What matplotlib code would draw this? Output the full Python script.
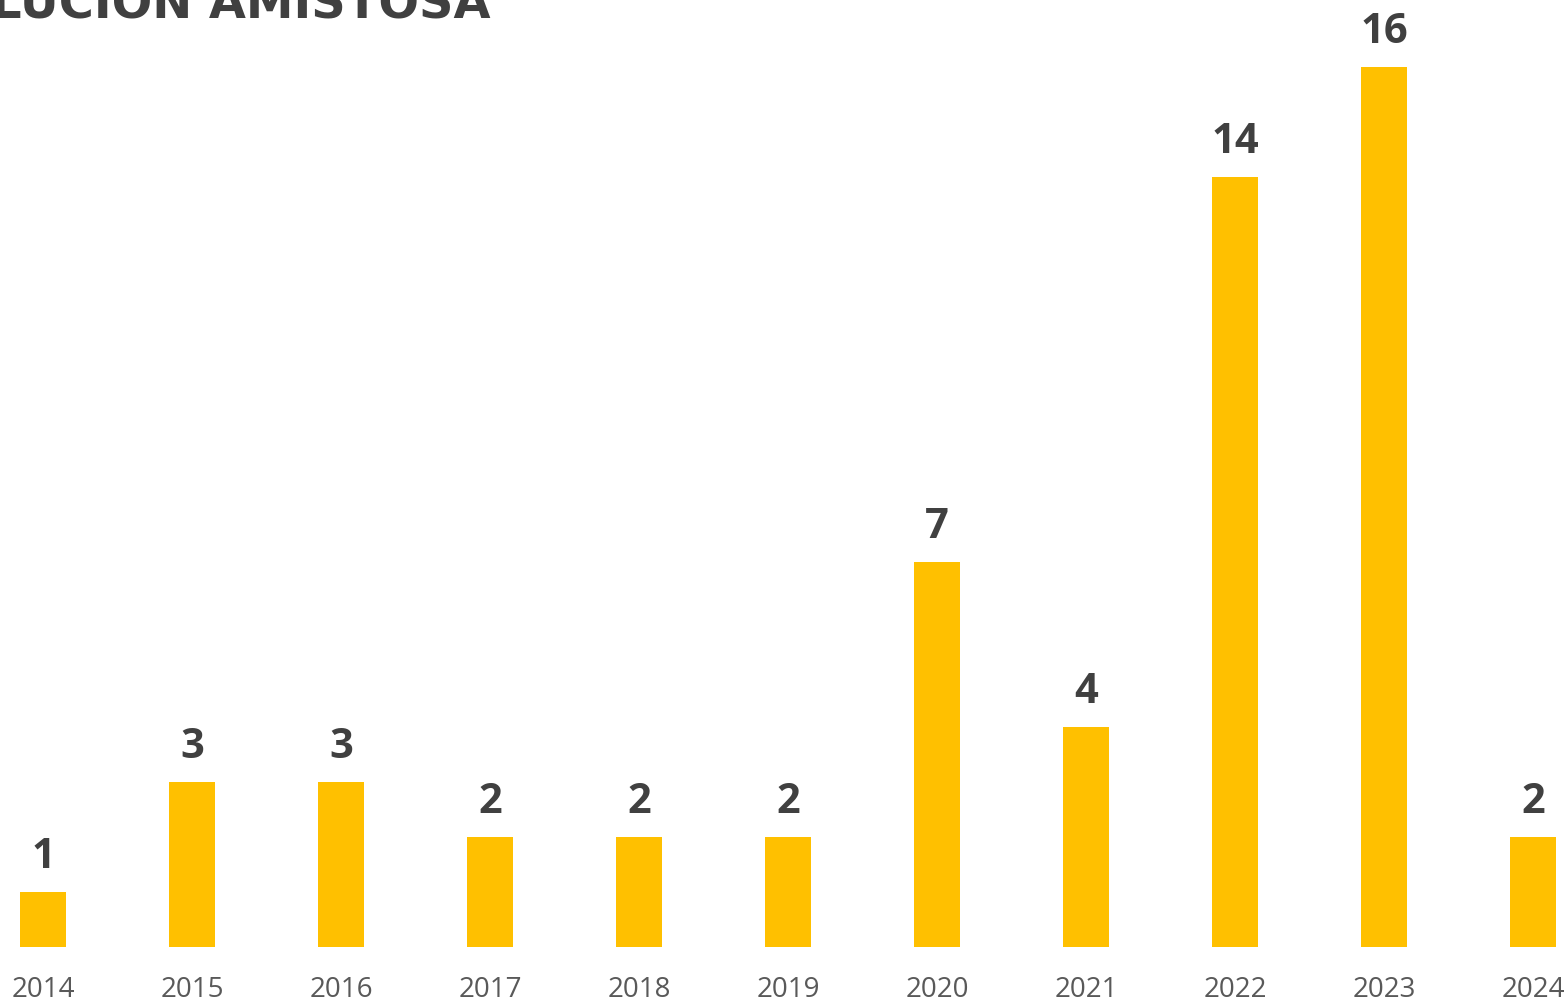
import matplotlib.pyplot as plt

# Casos cerrados por solución amistosa, por año
years = ['2014', '2015', '2016', '2017', '2018', '2019', '2020', '2021', '2022', '2023', '2024']
cases = [1, 3, 3, 2, 2, 2, 7, 4, 14, 16, 2]

bar_color = '#FFC000'
label_color = '#404040'
tick_color = '#595959'

fig = plt.figure(figsize=(15.68, 10.03), dpi=100)
ax = fig.add_axes([0, 55 / 1003, 1, 948 / 1003])

x = range(len(years))
bars = ax.bar(x, cases, width=0.309, color=bar_color)

ax.set_xlim(-0.289, 10.235)
ax.set_ylim(0, 17.236)

# value labels above each bar
for rect, v in zip(bars, cases):
    ax.annotate(str(v), (rect.get_x() + rect.get_width() / 2, v),
                xytext=(0, 11), textcoords='offset points',
                ha='center', va='bottom', fontsize=30, fontweight='bold',
                family='Open Sans', color=label_color)

ax.set_xticks(list(x))
ax.set_xticklabels(years, fontsize=20, family='Open Sans', color=tick_color)
ax.tick_params(axis='x', length=0, pad=20)
ax.set_yticks([])
for s in ax.spines.values():
    s.set_visible(False)

fig.text(490 / 1568, 1 - 18 / 1003, 'SOLUCIÓN AMISTOSA', ha='right', va='baseline',
         fontsize=34.5, fontweight='bold', family='DejaVu Sans', color=label_color)

fig.savefig('out.png', dpi=100)
